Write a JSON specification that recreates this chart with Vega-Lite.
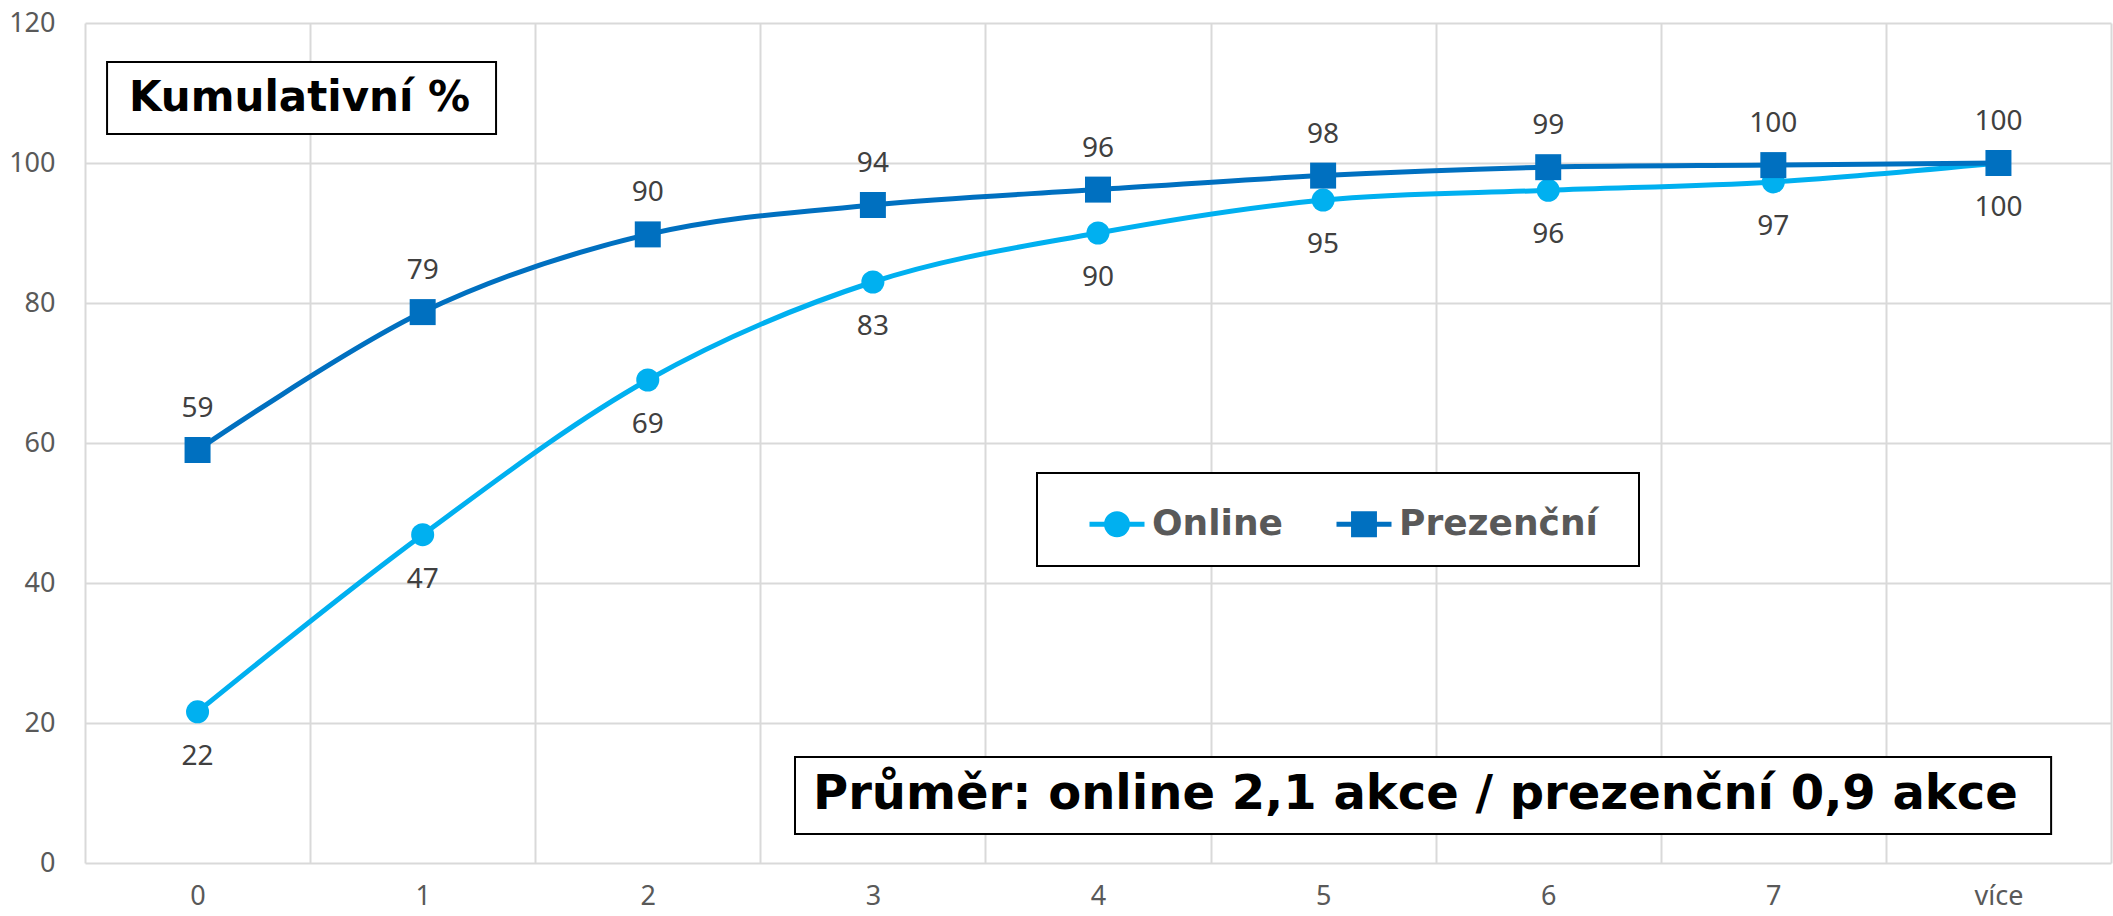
{
  "$schema": "https://vega.github.io/schema/vega-lite/v6.json",
  "width": 2026,
  "height": 840,
  "autosize": {"type": "none"},
  "padding": {"left": 85, "top": 23, "right": 2, "bottom": 53},
  "background": "white",
  "config": {
    "view": {"stroke": null},
    "axis": {
      "gridColor": "#d9d9d9",
      "gridWidth": 2,
      "labelFont": "Noto Sans",
      "labelFontSize": 27,
      "labelColor": "#595959",
      "ticks": false,
      "domain": false,
      "title": null
    },
    "axisY": {"labelPadding": 30},
    "axisX": {"labelPadding": 20}
  },
  "data": {
    "values": [
      {"k": "0", "series": "Online", "value": 21.6},
      {"k": "1", "series": "Online", "value": 46.9},
      {"k": "2", "series": "Online", "value": 69.0},
      {"k": "3", "series": "Online", "value": 83.0},
      {"k": "4", "series": "Online", "value": 90.0},
      {"k": "5", "series": "Online", "value": 94.7},
      {"k": "6", "series": "Online", "value": 96.1},
      {"k": "7", "series": "Online", "value": 97.3},
      {"k": "více", "series": "Online", "value": 100},
      {"k": "0", "series": "Prezenční", "value": 59.0},
      {"k": "1", "series": "Prezenční", "value": 78.7},
      {"k": "2", "series": "Prezenční", "value": 89.8},
      {"k": "3", "series": "Prezenční", "value": 94.0},
      {"k": "4", "series": "Prezenční", "value": 96.2},
      {"k": "5", "series": "Prezenční", "value": 98.2},
      {"k": "6", "series": "Prezenční", "value": 99.4},
      {"k": "7", "series": "Prezenční", "value": 99.7},
      {"k": "více", "series": "Prezenční", "value": 100}
    ]
  },
  "layer": [
    {
      "encoding": {
        "x": {
          "field": "k",
          "type": "nominal",
          "sort": ["0", "1", "2", "3", "4", "5", "6", "7", "více"],
          "scale": {"type": "band", "paddingInner": 0, "paddingOuter": 0, "domain": ["0", "1", "2", "3", "4", "5", "6", "7", "více"]},
          "axis": {"tickBand": "extent", "grid": true, "labelAngle": 0}
        },
        "y": {
          "field": "value",
          "type": "quantitative",
          "scale": {"domain": [0, 120], "nice": false},
          "axis": {"values": [0, 20, 40, 60, 80, 100, 120], "grid": true}
        }
      },
      "layer": [
        {
          "mark": {"type": "line", "interpolate": "cardinal", "strokeWidth": 5},
          "encoding": {
            "color": {
              "field": "series",
              "type": "nominal",
              "scale": {"domain": ["Online", "Prezenční"], "range": ["#00B0F0", "#0070C0"]},
              "legend": {
                "orient": "none",
                "legendX": 952,
                "legendY": 450,
                "direction": "horizontal",
                "title": " ",
                "titleOrient": "right",
                "titleFontSize": 1,
                "titlePadding": 20,
                "padding": 21,
                "strokeColor": "black",
                "fillColor": "white",
                "symbolSize": 3025,
                "symbolType": "M-1,0H1",
                "symbolOffset": 29,
                "columnPadding": 22,
                "labelFont": "DejaVu Sans",
                "labelFontWeight": "bold",
                "labelFontSize": 36,
                "labelColor": "#595959",
                "labelOffset": 5,
                "labelLimit": 500,
                "encode": {
                  "symbols": {
                    "update": {
                      "shape": {"signal": "datum.value === 'Online' ? 'M-1,0H1M0.38,0A0.38,0.38,0,1,1,-0.38,0A0.38,0.38,0,1,1,0.38,0Z' : 'M-1,0H1M-0.38,-0.38H0.38V0.38H-0.38Z'"},
                      "fill": {"scale": "color", "field": "value"},
                      "stroke": {"scale": "color", "field": "value"},
                      "strokeWidth": {"value": 5},
                      "opacity": {"value": 1}
                    }
                  },
                  "legend": {"update": {"strokeWidth": {"value": 2}}}
                }
              }
            }
          }
        },
        {
          "transform": [{"filter": "datum.series === 'Online'"}],
          "mark": {"type": "point", "shape": "circle", "filled": true, "opacity": 1, "size": 531, "color": "#00B0F0"},
          "encoding": {}
        },
        {
          "transform": [{"filter": "datum.series === 'Prezenční'"}],
          "mark": {"type": "point", "shape": "square", "filled": true, "opacity": 1, "size": 676, "color": "#0070C0"},
          "encoding": {}
        },
        {
          "transform": [{"filter": "datum.series === 'Online'"}],
          "mark": {"type": "text", "font": "Noto Sans", "fontSize": 28, "color": "#404040", "baseline": "middle", "dy": 45},
          "encoding": {"text": {"field": "value", "type": "quantitative", "format": ".0f"}}
        },
        {
          "transform": [{"filter": "datum.series === 'Prezenční'"}],
          "mark": {"type": "text", "font": "Noto Sans", "fontSize": 28, "color": "#404040", "baseline": "middle", "dy": -41},
          "encoding": {"text": {"field": "value", "type": "quantitative", "format": ".0f"}}
        }
      ]
    },
    {
      "data": {"values": [{"note": "Kumulativní %"}]},
      "layer": [
        {
          "mark": {"type": "rect", "fill": "white", "stroke": "black", "strokeWidth": 2},
          "encoding": {
            "x": {"datum": -0.402, "type": "quantitative", "scale": {"domain": [-0.5, 8.5], "nice": false, "zero": false}, "axis": null},
            "x2": {"datum": 1.326},
            "y": {"datum": 114.43, "type": "quantitative"},
            "y2": {"datum": 104.14}
          }
        },
        {
          "mark": {"type": "text", "font": "DejaVu Sans", "fontWeight": "bold", "fontSize": 42, "color": "black", "baseline": "middle", "align": "center"},
          "encoding": {
            "x": {"datum": 0.453, "type": "quantitative", "scale": {"domain": [-0.5, 8.5], "nice": false, "zero": false}, "axis": null},
            "y": {"datum": 109.3, "type": "quantitative"},
            "text": {"field": "note", "type": "nominal"}
          }
        }
      ]
    },
    {
      "data": {"values": [{"note": "Průměr: online 2,1 akce / prezenční 0,9 akce"}]},
      "layer": [
        {
          "mark": {"type": "rect", "fill": "white", "stroke": "black", "strokeWidth": 2},
          "encoding": {
            "x": {"datum": 2.654, "type": "quantitative", "scale": {"domain": [-0.5, 8.5], "nice": false, "zero": false}, "axis": null},
            "x2": {"datum": 8.234},
            "y": {"datum": 15.14, "type": "quantitative"},
            "y2": {"datum": 4.14}
          }
        },
        {
          "mark": {"type": "text", "font": "DejaVu Sans", "fontWeight": "bold", "fontSize": 48, "color": "black", "baseline": "middle", "align": "center"},
          "encoding": {
            "x": {"datum": 5.41, "type": "quantitative", "scale": {"domain": [-0.5, 8.5], "nice": false, "zero": false}, "axis": null},
            "y": {"datum": 9.75, "type": "quantitative"},
            "text": {"field": "note", "type": "nominal"}
          }
        }
      ]
    }
  ],
  "resolve": {"scale": {"x": "independent"}}
}
